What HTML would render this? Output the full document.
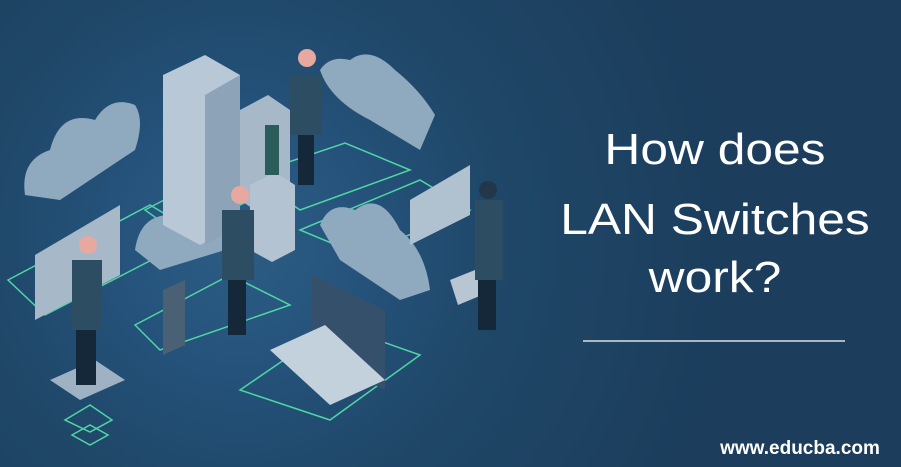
<!DOCTYPE html>
<html><head><meta charset="utf-8"><style>
html,body{margin:0;padding:0;}
body{width:901px;height:467px;overflow:hidden;background:#1d3f5e;position:relative;font-family:"Liberation Sans",sans-serif;}
.bg{position:absolute;left:0;top:0;width:901px;height:467px;background:radial-gradient(circle at 240px 240px,#2c5d84 0,#25537c 120px,#1f4768 260px,#1c3d5c 500px);}
.t{position:absolute;left:560px;width:310px;text-align:center;color:#fff;font-size:44px;line-height:44px;transform:scaleX(1.13);transform-origin:155px 0;}
</style></head><body>
<div class="bg"></div>
<svg width="901" height="467" style="position:absolute;left:0;top:0">
<g fill="none" stroke="#4fd6a4" stroke-width="1.5">
<polygon points="8,280 150,205 200,235 45,315"/>
<polygon points="145,210 240,160 280,185 180,235"/>
<polygon points="250,175 345,143 410,170 300,210"/>
<polygon points="135,325 230,275 290,305 160,350"/>
<polygon points="240,390 335,325 420,355 330,420"/>
<polygon points="300,230 420,180 470,210 360,255"/>
<polygon points="65,420 90,405 112,420 90,432"/>
<polygon points="72,435 90,425 108,435 90,445"/>
</g>
<g fill="#8fa9bf">
<path d="M25,195 Q20,160 50,150 Q60,110 95,120 Q110,95 135,105 Q145,120 135,150 L60,200 Z"/>
<path d="M320,70 Q330,55 350,60 Q370,45 395,70 Q420,90 435,115 L420,150 L370,120 Q330,100 320,70 Z"/>
<path d="M135,250 Q140,215 170,215 Q195,190 220,215 L225,250 L160,270 Z"/>
<path d="M320,225 Q330,200 355,210 Q380,190 400,230 Q425,250 430,290 L400,300 L340,260 Z"/>
</g>
<polygon points="163,75 205,55 240,75 240,225 200,245 163,225" fill="#b9c8d6"/>
<polygon points="205,95 240,75 240,225 205,245" fill="#8da3b7"/>
<polygon points="240,110 268,95 290,110 290,200 262,215 240,200" fill="#a7b9c9"/>
<polygon points="250,185 275,172 295,185 295,250 272,262 250,250" fill="#b3c3d2"/>
<rect x="265" y="125" width="14" height="50" fill="#2b5b5a"/>
<polygon points="35,255 120,205 120,275 35,320" fill="#a7b9c9"/>
<polygon points="410,200 470,165 470,215 410,245" fill="#b0c1d0"/>
<polygon points="163,290 185,280 185,345 163,355" fill="#4a6075"/>
<polygon points="312,275 385,310 385,390 312,355" fill="#35506a"/>
<polygon points="270,350 325,325 385,380 330,405" fill="#c3d1dd"/>
<polygon points="50,380 95,360 125,380 80,400" fill="#9fb2c3"/>
<polygon points="450,280 475,270 482,295 458,305" fill="#b8c6d3"/>
<g fill="#2d4d62">
<rect x="290" y="75" width="32" height="60"/><rect x="298" y="135" width="16" height="50" fill="#14283a"/>
<rect x="222" y="210" width="32" height="70"/><rect x="228" y="280" width="18" height="55" fill="#14283a"/>
<rect x="72" y="260" width="30" height="70"/><rect x="76" y="330" width="20" height="55" fill="#14283a"/>
<rect x="475" y="200" width="28" height="80"/><rect x="478" y="280" width="18" height="50" fill="#14283a"/>
</g>
<g fill="#e7a8a0"><circle cx="307" cy="58" r="9"/><circle cx="240" cy="195" r="9"/><circle cx="88" cy="245" r="9"/></g>
<circle cx="488" cy="190" r="9" fill="#22384a"/>
<line x1="583" y1="341" x2="845" y2="341" stroke="#fff" stroke-width="1.2"/>
</svg>
<div class="t" style="top:128px">How does</div>
<div class="t" style="top:198px">LAN Switches</div>
<div class="t" style="top:256px">work?</div>
<div style="position:absolute;left:705px;top:438px;width:190px;text-align:center;color:#fff;font-weight:bold;font-size:19px;">www.educba.com</div>
</body></html>
